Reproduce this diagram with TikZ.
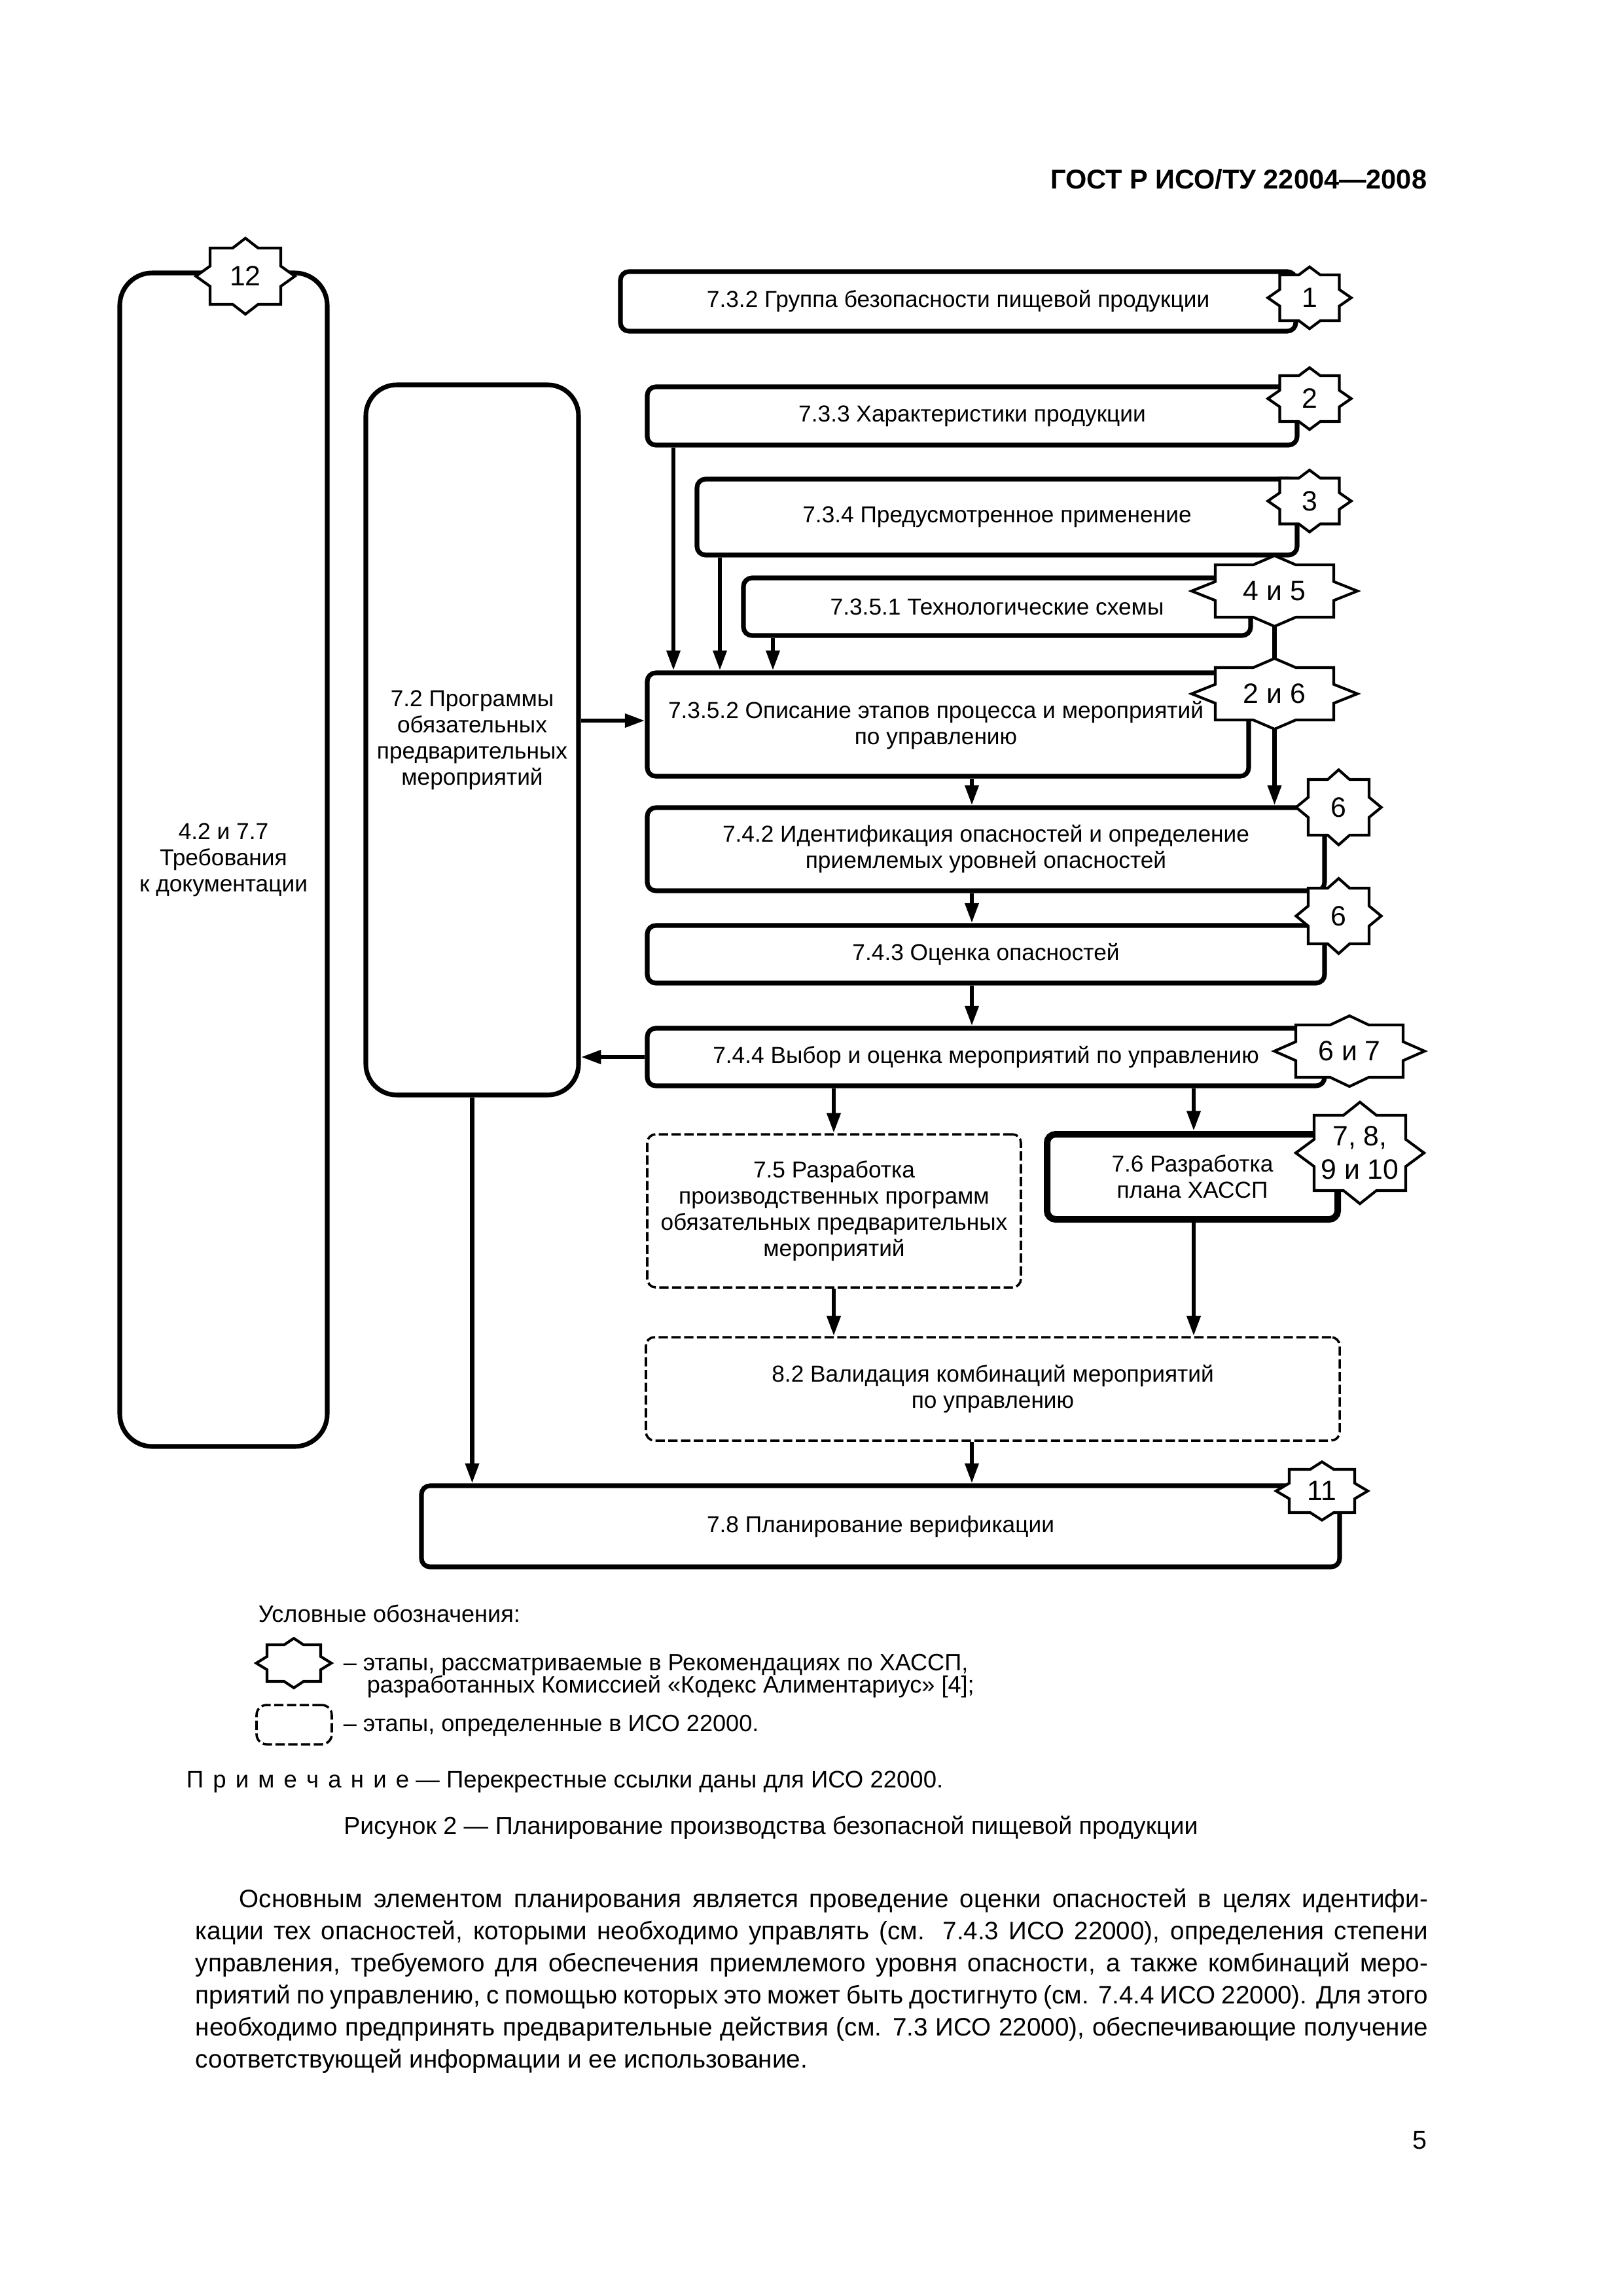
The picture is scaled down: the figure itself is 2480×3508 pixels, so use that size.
\documentclass[tikz,border=0pt]{standalone}
\usepackage{fontspec}
\setmainfont{Liberation Sans}
\usetikzlibrary{arrows.meta}
\newcommand\mkbox[7]{%
  \node[#1, minimum width={(#5-#3)*0.0846774mm}, minimum height={(#6-#4)*0.0846774mm}] (#2) at ({(#3+#5)/2},{(#4+#6)/2}) {#7};}
\newcommand\mkstar[6]{%
  \begin{scope}[shift={(#2,#3)},xscale=#4,yscale=#5]
    \draw[starln] (-1,-1) -- (-0.36,-1) -- (0,-1.35) -- (0.36,-1) -- (1,-1) -- (1,-0.36) -- (1.4,0) -- (1,0.36) -- (1,1) -- (0.36,1) -- (0,1.35) -- (-0.36,1) -- (-1,1) -- (-1,0.36) -- (-1.4,0) -- (-1,-0.36) -- cycle;
  \end{scope}
  \node[startext] (#1) at (#2,#3) {#6};
  \coordinate (#1-n) at (#2,{#3-1.35*#5});
  \coordinate (#1-s) at (#2,{#3+1.35*#5});
}
\tikzset{
  box/.style={draw, line width=0.6mm, rounded corners=1.1mm, inner sep=0pt, align=center, fill=white, font=\fontsize{8.5}{9.64}\selectfont},
  bigbox/.style={box, rounded corners=4.2mm},
  dbox/.style={box, line width=0.3mm, dash pattern=on 1.2mm off 0.45mm},
  thickbox/.style={box, line width=0.85mm},
  starln/.style={draw, fill=white, line width=0.35mm, line join=miter},
  startext/.style={inner sep=0pt, align=center, font=\fontsize{10.3}{12.2}\selectfont},
  arr/.style={line width=0.55mm, -{Triangle[length=2.6mm,width=1.7mm]}},
  ln/.style={line width=0.55mm},
  txt/.style={inner sep=0pt, anchor=base west},
  dtxt/.style={txt, font=\fontsize{8.7}{9.8}\selectfont},
  ptxt/.style={txt, font=\fontsize{9.3}{11.8}\selectfont},
}
\begin{document}
\begin{tikzpicture}[x=0.0846774mm, y=-0.0846774mm]
\fill[white] (0,0) rectangle (2480,3508);
\useasboundingbox (0,0) rectangle (2480,3508);

% header
\node[inner sep=0pt, anchor=base east, font=\bfseries\fontsize{10}{12}\selectfont] (hdr) at (2181,288) {ГОСТ Р ИСО/ТУ 22004—2008};

% boxes
\mkbox{bigbox}{n4277}{183}{417}{500}{2210}{4.2 и 7.7\\Требования\\к документации}
\mkbox{bigbox, rounded corners=4mm}{n72}{559}{588}{884}{1673}{7.2 Программы\\обязательных\\предварительных\\мероприятий}
\mkbox{box}{n732}{948}{415}{1980}{506}{7.3.2 Группа безопасности пищевой продукции}
\mkbox{box}{n733}{989}{591}{1982}{680}{7.3.3 Характеристики продукции}
\mkbox{box}{n734}{1065}{732}{1982}{848}{7.3.4 Предусмотренное применение}
\mkbox{box}{n7351}{1136}{883}{1911}{971}{7.3.5.1 Технологические схемы}
\mkbox{box}{n7352}{989}{1028}{1908}{1186}{}
\node[inner sep=0pt, align=center, font=\fontsize{8.5}{9.64}\selectfont] (t7352) at (1430,1108) {7.3.5.2 Описание этапов процесса и мероприятий\\по управлению};
\mkbox{box}{n742}{989}{1234}{2024}{1361}{7.4.2 Идентификация опасностей и определение\\приемлемых уровней опасностей}
\mkbox{box}{n743}{989}{1414}{2024}{1502}{7.4.3 Оценка опасностей}
\mkbox{box}{n744}{989}{1571}{2024}{1659}{7.4.4 Выбор и оценка мероприятий по управлению}
\mkbox{dbox}{n75}{989}{1733}{1560}{1967}{7.5 Разработка\\производственных программ\\обязательных предварительных\\мероприятий}
\mkbox{thickbox}{n76}{1600}{1733}{2044}{1863}{7.6 Разработка\\плана ХАССП}
\mkbox{dbox}{n82}{987}{2043}{2047}{2201}{8.2 Валидация комбинаций мероприятий\\по управлению}
\mkbox{box}{n78}{644}{2270}{2047}{2394}{7.8 Планирование верификации}

% helper coordinates
\coordinate (xa) at (1029,0);
\coordinate (xb) at (1100,0);
\coordinate (xc) at (1181,0);
\coordinate (xm) at (1485,0);
\coordinate (xl) at (1274,0);
\coordinate (xr) at (1824,0);
\coordinate (ya) at (0,1101);

% stars (top layer)
\mkstar{s12}{375}{422}{54}{43}{12}
\mkstar{s1}{2001}{455}{45.5}{35}{1}
\mkstar{s2}{2001}{609}{45.5}{35}{2}
\mkstar{s3}{2001}{765.5}{45.5}{35}{3}
\mkstar{s45}{1947.5}{903}{90.5}{40}{4 и 5}
\mkstar{s26}{1947.5}{1060}{90.5}{40}{2 и 6}
\mkstar{s6a}{2045.5}{1233.5}{46.5}{42.5}{6}
\mkstar{s6b}{2045.5}{1399.5}{46.5}{42.5}{6}
\mkstar{s67}{2062}{1606}{82}{40}{6 и 7}
\mkstar{s710}{2078}{1761.5}{70}{57.5}{7, 8,\\9 и 10}
\mkstar{s11}{2020}{2278}{50}{33}{11}

% connectors
\draw[arr] (xa |- n733.south) -- (xa |- n7352.north);
\draw[arr] (xb |- n734.south) -- (xb |- n7352.north);
\draw[arr] (xc |- n7351.south) -- (xc |- n7352.north);
\draw[ln] (s45-s) -- (s26-n);
\draw[arr] (s26-s) -- (s26-s |- n742.north);
\draw[arr] (xm |- n7352.south) -- (xm |- n742.north);
\draw[arr] (xm |- n742.south) -- (xm |- n743.north);
\draw[arr] (xm |- n743.south) -- (xm |- n744.north);
\draw[arr] (n744.west) -- (n744.west -| n72.east);
\draw[arr] (ya -| n72.east) -- (ya -| n7352.west);
\draw[arr] (xl |- n744.south) -- (xl |- n75.north);
\draw[arr] (xr |- n744.south) -- (xr |- n76.north);
\draw[arr] (xl |- n75.south) -- (xl |- n82.north);
\draw[arr] (xr |- n76.south) -- (xr |- n82.north);
\draw[arr] (xm |- n82.south) -- (xm |- n78.north);
\draw[arr] (n72.south) -- (n72.south |- n78.north);

% legend
\node[dtxt] (lg) at (394,2478) {Условные обозначения:};
\mkstar{lstar}{449}{2541}{41}{28}{}
\node[dtxt] (lg1) at (524,2552) {– этапы, рассматриваемые в Рекомендациях по ХАССП,};
\node[dtxt] (lg2) at (560,2586) {разработанных Комиссией «Кодекс Алиментариус» [4];};
\mkbox{dbox, rounded corners=1.3mm}{ldash}{392}{2605}{507}{2665}{}
\node[dtxt] (lg3) at (524,2645) {– этапы, определенные в ИСО 22000.};

% note and caption
\node[txt, font=\fontsize{8.8}{10}\selectfont] (note) at (284,2731) {\makebox[82pt][s]{П р и м е ч а н и е} — Перекрестные ссылки даны для ИСО 22000.};
\node[inner sep=0pt, anchor=base, font=\fontsize{9.05}{11}\selectfont] (cap) at (1178,2802) {Рисунок 2 — Планирование производства безопасной пищевой продукции};

% paragraph
\node[ptxt] (p1) at (365,2914) {\makebox[153.77mm][s]{Основным элементом планирования является проведение оценки опасностей в целях идентифи-}};
\node[ptxt] (p2) at (298,2963) {\makebox[159.45mm][s]{кации тех опасностей, которыми необходимо управлять (см. 7.4.3 ИСО 22000), определения степени}};
\node[ptxt] (p3) at (298,3012) {\makebox[159.45mm][s]{управления, требуемого для обеспечения приемлемого уровня опасности, а также комбинаций меро-}};
\node[ptxt] (p4) at (298,3061) {\makebox[159.45mm][s]{приятий по управлению, с помощью которых это может быть достигнуто (см. 7.4.4 ИСО 22000). Для этого}};
\node[ptxt] (p5) at (298,3110) {\makebox[159.45mm][s]{необходимо предпринять предварительные действия (см. 7.3 ИСО 22000), обеспечивающие получение}};
\node[ptxt] (p6) at (298,3159) {соответствующей информации и ее использование.};

% page number
\node[inner sep=0pt, anchor=base east, font=\fontsize{9.5}{11}\selectfont] (pg) at (2181,3283) {5};
\end{tikzpicture}
\end{document}
